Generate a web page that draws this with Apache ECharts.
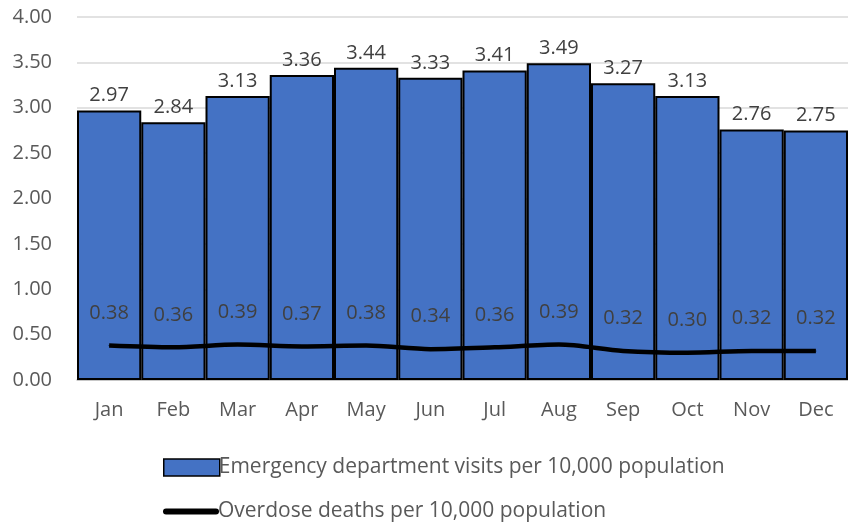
<!DOCTYPE html>
<html><head><meta charset="utf-8">
<script src="https://cdn.jsdelivr.net/npm/echarts@6/dist/echarts.min.js"></script>
<style>html,body{margin:0;padding:0;background:#fff}#c{width:848px;height:523px}</style>
</head><body><div id="c"></div>
<script>
const months = ['Jan','Feb','Mar','Apr','May','Jun','Jul','Aug','Sep','Oct','Nov','Dec'];
const edVisits = [2.97,2.84,3.13,3.36,3.44,3.33,3.41,3.49,3.27,3.13,2.76,2.75];
const deaths = [0.38,0.36,0.39,0.37,0.38,0.34,0.36,0.39,0.32,0.30,0.32,0.32];
const yTicks = {min:0,max:4,interval:0.5};
const edName = 'Emergency department visits per 10,000 population';
const odName = 'Overdose deaths per 10,000 population';
const font = '"Open Sans", "Liberation Sans", sans-serif';
const legendText = {color:'#595959',fontSize:21,fontFamily:font,padding:[0,0,0,-6]};
const chart = echarts.init(document.getElementById('c'));
chart.setOption({
  animation:false,
  textStyle:{fontFamily:font},
  grid:{left:77,right:0,top:17,bottom:143},
  xAxis:{type:'category',data:months,
    axisLine:{lineStyle:{color:'#bfbfbf',width:1.5}},axisTick:{show:false},
    axisLabel:{color:'#595959',fontSize:20,margin:20,fontFamily:font}},
  yAxis:{type:'value',min:yTicks.min,max:yTicks.max,interval:yTicks.interval,
    axisLine:{show:false},axisTick:{show:false},
    splitLine:{lineStyle:{color:'#d9d9d9',width:1.5}},
    axisLabel:{color:'#595959',fontSize:20,margin:25,formatter:v=>v.toFixed(2),fontFamily:font}},
  legend:[
    {left:158,top:452,itemWidth:56,itemHeight:17,textStyle:legendText,
     data:[{name:edName,icon:'rect',itemStyle:{color:'#4472c4',borderColor:'#000',borderWidth:1.5}}]},
    {left:158,top:496,itemWidth:56,itemHeight:17,textStyle:legendText,
     data:[{name:odName,
           icon:'path://M0,0 M56,17 M3,5.5 L53,5.5 A3,3 0 0 1 53,11.5 L3,11.5 A3,3 0 0 1 3,5.5 Z',
           itemStyle:{color:'#000'}}]}
  ],
  series:[
    {name:edName,type:'bar',data:edVisits,
      barCategoryGap:'0%',
      itemStyle:{color:'#4472c4',borderColor:'#000',borderWidth:2},
      label:{show:true,position:'top',distance:5,color:'#404040',fontSize:20,fontFamily:font,formatter:p=>p.value.toFixed(2)}},
    {name:odName,type:'line',data:deaths,smooth:0.3,
      symbol:'circle',symbolSize:1,showSymbol:true,lineStyle:{color:'#000',width:4.5},itemStyle:{color:'#000'},
      label:{show:true,position:'top',distance:22,color:'#404040',fontSize:20,fontFamily:font,formatter:p=>p.value.toFixed(2)}}
  ]
});
</script></body></html>
